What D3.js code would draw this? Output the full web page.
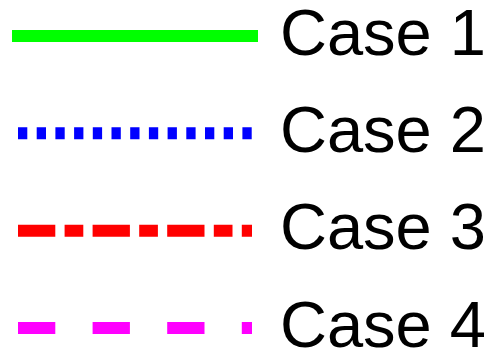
<html>
<head>
<script src="https://cdn.jsdelivr.net/npm/d3@7"></script>
<style>
  body { margin: 0; background: #fff; }
</style>
</head>
<body>
<div id="container1"></div>

<script>

const cases = ["Case 1", "Case 2", "Case 3", "Case 4"];

// line styles, one per case
const colors = ["#00ff00", "#0000ff", "#ff0000", "#ff00ff"];
const dashes = [null, "9.3,9.4", "37.3,9.3,18.7,9.3", "37.3,37.3"];

const width = 501, height = 363;

const svg = d3.select("#container1")
  .append("svg")
    .attr("width", width)
    .attr("height", height);

const y = d3.scalePoint()
    .domain(cases)
    .range([36, 328]);

const x = d3.scaleLinear()
    .domain([0, 1])
    .range([18, 252]);

const rows = svg.selectAll("g.row")
  .data(cases)
  .join("g")
    .attr("class", "row")
    .attr("transform", d => `translate(0, ${y(d)})`);

rows.append("line")
    .attr("x1", x(0))
    .attr("x2", x(1))
    .attr("y1", 0)
    .attr("y2", 0)
    .style("stroke", (d, i) => colors[i])
    .style("stroke-width", 12)
    .style("stroke-linecap", (d, i) => dashes[i] ? "butt" : "square")
    .style("stroke-dasharray", (d, i) => dashes[i]);

rows.append("text")
    .attr("x", 280)
    .attr("y", 18.5)
    .text(d => d)
    .style("font-family", "'Liberation Sans', Arial, sans-serif")
    .style("font-size", "65px")
    .style("fill", "#000");

</script>
</body>
</html>
